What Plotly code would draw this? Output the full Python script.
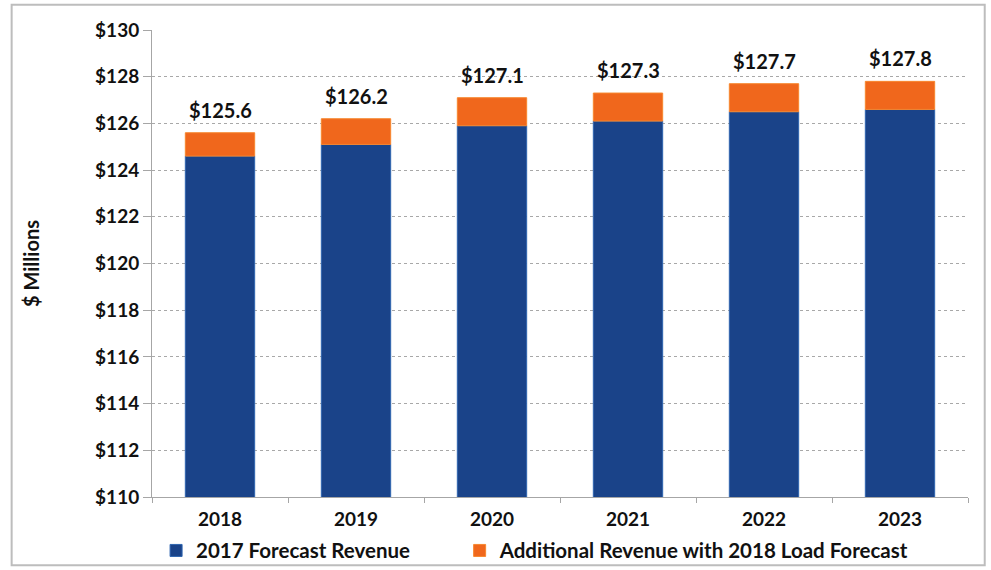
import plotly.graph_objects as go

years = ["2018", "2019", "2020", "2021", "2022", "2023"]
forecast_2017 = [124.6, 125.1, 125.9, 126.1, 126.5, 126.6]
additional_2018 = [1.0, 1.1, 1.2, 1.2, 1.2, 1.2]
total_labels = [125.6, 126.2, 127.1, 127.3, 127.7, 127.8]

FONT = "Lato"
BLUE = "#1a4389"
ORANGE = "#f0671c"

fig = go.Figure()
fig.add_trace(go.Bar(
    x=years, y=forecast_2017, name="2017 Forecast Revenue",
    marker=dict(color=BLUE, line=dict(color="#2f65b0", width=1)),
    base=0, legend="legend",
))
fig.add_trace(go.Bar(
    x=years, y=additional_2018, base=forecast_2017,
    name="Additional Revenue with 2018 Load Forecast",
    marker=dict(color=ORANGE, line=dict(color="#f7872f", width=1)),
    legend="legend2",
))

# total labels above each stacked bar (x given as category index)
for i, total in enumerate(total_labels):
    fig.add_annotation(
        x=i, y=total, text=f"${total:.1f}", showarrow=False,
        yanchor="bottom", yshift=9,
        font=dict(family=FONT, size=20, color="#111111", weight="bold"),
    )

# outer chart frame
fig.add_shape(type="rect", xref="paper", yref="paper",
              x0=-0.172, x1=1.0205, y0=-0.146, y1=1.054,
              line=dict(color="#bdbdbd", width=2), layer="below")

legend_style = dict(orientation="h", y=-0.072, xanchor="left", yanchor="top",
                    font=dict(family=FONT, size=20.5, color="#111111", weight="bold"),
                    itemwidth=30, bgcolor="rgba(0,0,0,0)")

fig.update_layout(
    width=991, height=570,
    margin=dict(l=152, r=23, t=30, b=73, autoexpand=False),
    paper_bgcolor="white", plot_bgcolor="white",
    barmode="overlay", bargap=0.49,
    font=dict(family=FONT, color="#111111"),
    legend=dict(x=0.005, **legend_style),
    legend2=dict(x=0.377, **legend_style),
    showlegend=True,
)
fig.update_xaxes(
    type="category", categoryorder="array", categoryarray=years,
    range=[-0.5, len(years) - 0.5],
    showline=True, linecolor="#a6a6a6", linewidth=1,
    ticks="outside", tickson="boundaries", ticklen=5, tickcolor="#a6a6a6",
    ticklabelstandoff=5,
    tickfont=dict(family=FONT, size=19, color="#111111", weight="bold"),
    showgrid=False,
)
fig.update_yaxes(
    range=[110, 130], dtick=2, tickprefix="$",
    showline=True, linecolor="#a6a6a6", linewidth=1,
    ticks="outside", ticklen=8, tickcolor="#a6a6a6",
    tickfont=dict(family=FONT, size=19, color="#111111", weight="bold"),
    showgrid=True, gridcolor="#a8a8a8", gridwidth=1, griddash="dot",
    title=dict(text="$ Millions", standoff=50,
               font=dict(family=FONT, size=20, color="#111111", weight="bold")),
    zeroline=False,
)

fig.write_html("out.html")
